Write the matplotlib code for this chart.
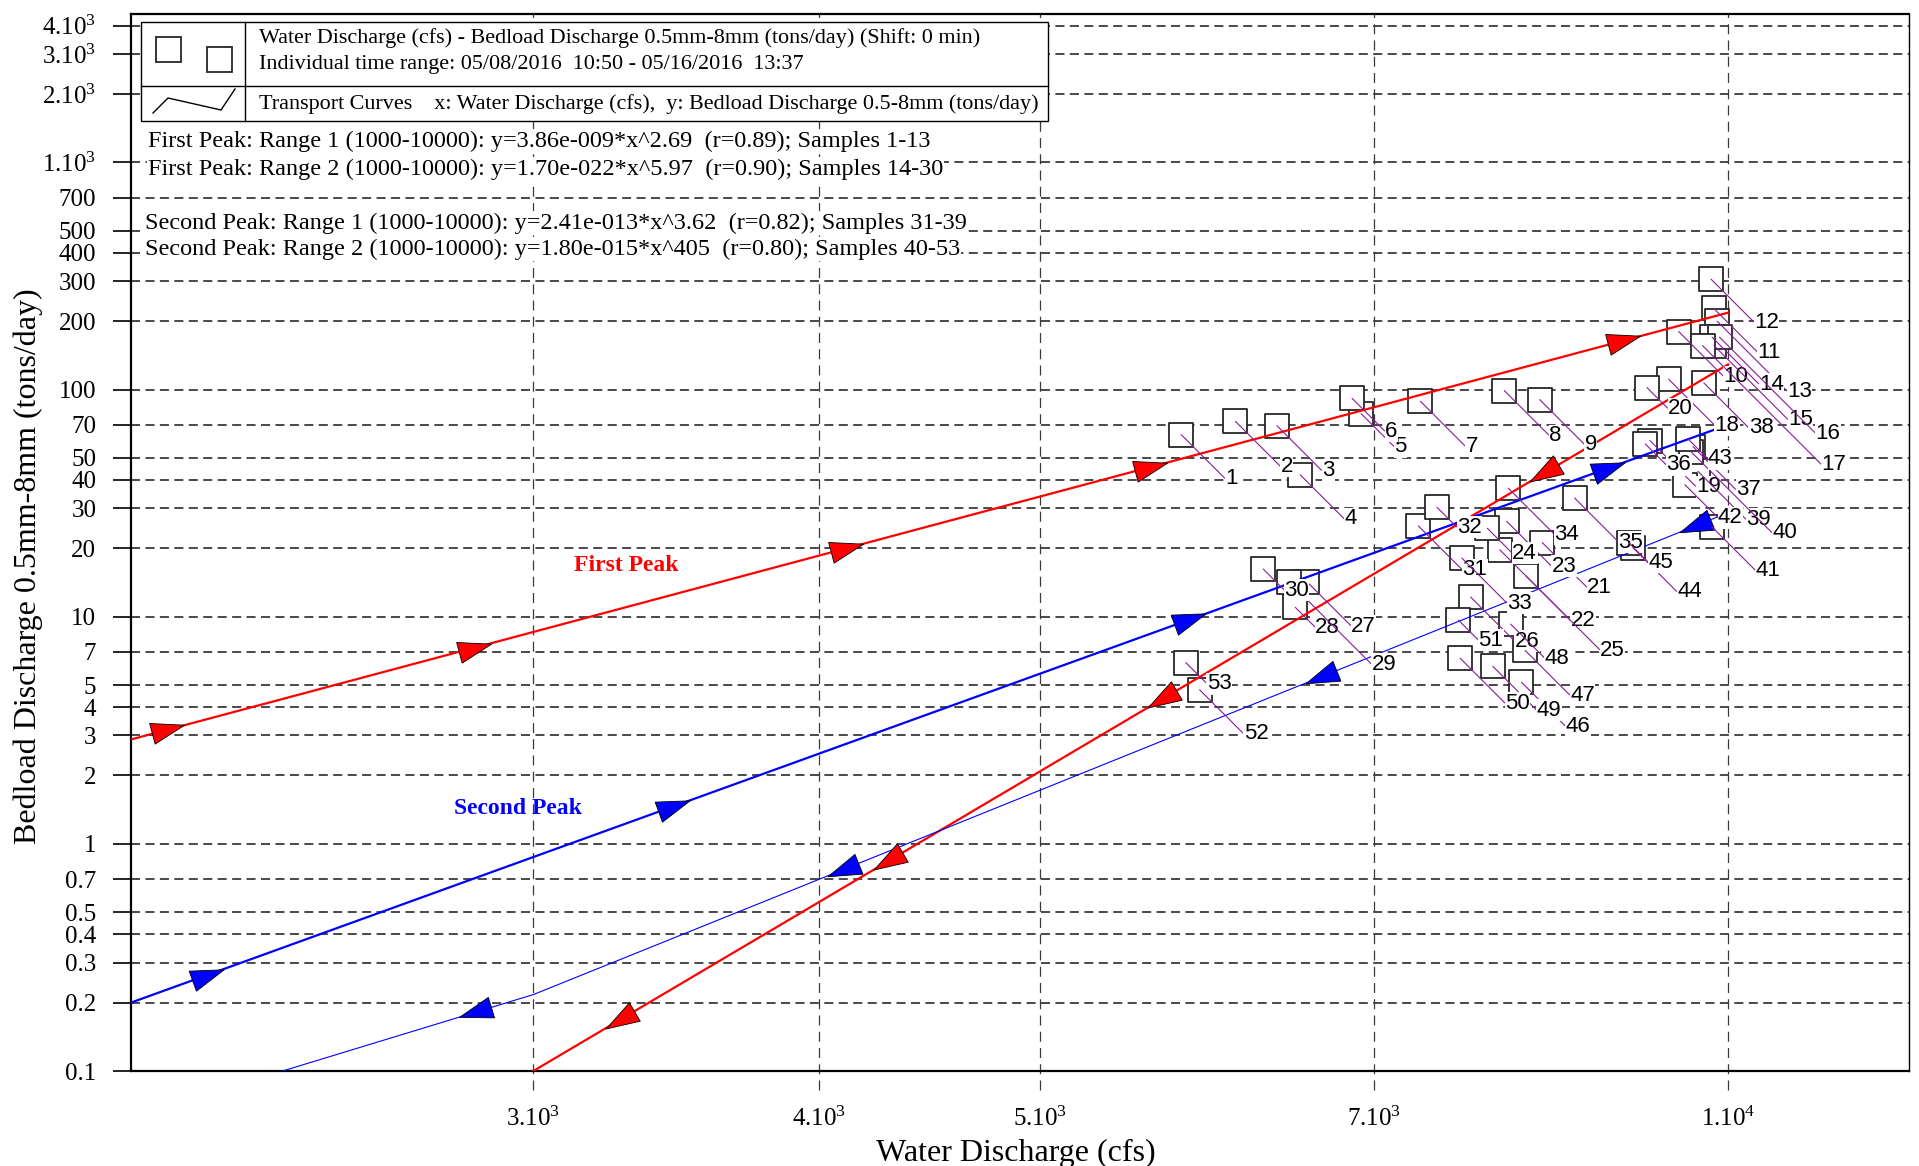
import numpy as np
import matplotlib
matplotlib.use('Agg')
import matplotlib.pyplot as plt
from matplotlib.lines import Line2D
from matplotlib.patches import Rectangle
from matplotlib.markers import MarkerStyle
from matplotlib.path import Path
from matplotlib.transforms import Affine2D
from matplotlib.ticker import FixedLocator, NullLocator

plt.rcParams['font.family'] = ['Liberation Serif', 'DejaVu Serif']
plt.rcParams['mathtext.fontset'] = 'custom'
plt.rcParams['mathtext.rm'] = 'Liberation Serif'
plt.rcParams['mathtext.it'] = 'Liberation Serif:italic'

# samples (water discharge cfs, bedload tons/day), numbered 1..53
sample_no = list(range(1, 54))
water_q = [5763, 6087, 6347, 6498, 6909, 6846, 7334, 7981, 8271, 9515,
           9855, 9830, 9890, 9840, 9860, 9914, 9746, 9419, 9243, 9215,
           8292, 7945, 8000, 7846, 8158, 7715, 6544, 6465, 6427, 6260,
           7319, 7458, 7648, 8013, 8567, 9200, 9653, 9758, 9702, 9634,
           9837, 9575, 9604, 9087, 9050, 8120, 8150, 8033, 7889, 7634,
           7621, 5871, 5790]
bedload = [63.3, 72.4, 69.3, 42.1, 78.3, 91.5, 88.8, 99.0, 90.3, 180,
           228, 306, 200, 170, 156, 170, 156, 111, 59.6, 102,
           21.2, 19.7, 26.3, 24.5, 15.1, 12.2, 14.2, 11.0, 14.2, 16.2,
           25.1, 30.3, 18.1, 36.8, 33.3, 57.6, 56.0, 107, 43.6, 53.2,
           24.9, 38.1, 60.6, 20.1, 21.1, 5.15, 7.11, 9.27, 6.05, 6.56,
           9.65, 4.77, 6.28]
# length of the purple leader line for each label (pixels)
leader_len = [44, 45, 45, 44, 33, 33, 45, 45, 45, 45,
              44, 43, 70, 47, 74, 96, 119, 46, 46, 21,
              45, 71, 45, 25, 74, 44, 44, 20, 82, 21,
              44, 20, 45, 46, 44, 21, 43, 45, 48, 81,
              44, 33, 20, 44, 19, 44, 45, 34, 44, 45,
              20, 44, 21]

# transport curves
fp1_q, fp1_qs = [2000, 10000], [2.88, 218]
fp2_q, fp2_qs = [3000, 10000], [0.1, 129]
sp1_q, sp1_qs = [2000, 10000], [0.2, 70]
sp2_q, sp2_qs = [2330, 3000, 10000], [0.1, 0.217, 28.7]
fp1_arrows = [2077, 2829, 4114, 5591, 9004]
fp2_arrows = [3273, 4290, 5651, 8309]
sp1_arrows = [2161, 3456, 5814, 8872]
sp2_arrows = [2829, 4100, 6635, 9673]

x_ticks = [3000, 4000, 5000, 7000, 10000]
x_labels = [r'$\mathregular{3.10^{3}}$', r'$\mathregular{4.10^{3}}$', r'$\mathregular{5.10^{3}}$',
            r'$\mathregular{7.10^{3}}$', r'$\mathregular{1.10^{4}}$']
y_ticks = [0.1, 0.2, 0.3, 0.4, 0.5, 0.7, 1, 2, 3, 4, 5, 7, 10, 20, 30, 40, 50, 70,
           100, 200, 300, 400, 500, 700, 1000, 2000, 3000, 4000]
y_labels = ['0.1', '0.2', '0.3', '0.4', '0.5', '0.7', '1', '2', '3', '4', '5', '7',
            '10', '20', '30', '40', '50', '70', '100', '200', '300', '400', '500', '700',
            r'$\mathregular{1.10^{3}}$', r'$\mathregular{2.10^{3}}$',
            r'$\mathregular{3.10^{3}}$', r'$\mathregular{4.10^{3}}$']

W, H = 1919, 1166
fig = plt.figure(figsize=(W / 100, H / 100), dpi=100)
ax = fig.add_axes([131 / W, 1 - 1071 / H, 1778 / W, 1057 / H])
ax.set_xscale('log')
ax.set_yscale('log')
ax.set_xlim(2000, 12000)
ax.set_ylim(0.1, 4500)
ax.xaxis.set_major_locator(FixedLocator(x_ticks))
ax.xaxis.set_minor_locator(NullLocator())
ax.yaxis.set_major_locator(FixedLocator(y_ticks))
ax.yaxis.set_minor_locator(NullLocator())
ax.set_xticklabels(x_labels)
ax.set_yticklabels(y_labels)
ax.tick_params(axis='y', direction='out', length=13, width=1.2, pad=12, labelsize=18)
ax.tick_params(axis='x', length=0, pad=26, labelsize=18)
ax.set_axisbelow(True)
ax.grid(axis='y', ls=(0, (5, 3)), color='#3a3a3a', lw=1.3)
ax.vlines(x_ticks, -0.018, 1, transform=ax.get_xaxis_transform(), colors='#3a3a3a',
          lw=0.9, linestyles=(0, (8, 5)), clip_on=False, zorder=0.5)
for s in ['left', 'bottom', 'top']:
    ax.spines[s].set_linewidth(1.6)
ax.spines['right'].set_linewidth(1.0)

ax.set_xlabel('Water Discharge (cfs)', fontsize=23)
ax.xaxis.set_label_coords(0.4978, -0.064)
ax.set_ylabel('Bedload Discharge 0.5mm-8mm (tons/day)', fontsize=23)
ax.yaxis.set_label_coords(-0.0495, 0.478)

# samples
ax.scatter(water_q, bedload, marker='s', s=300, facecolor='white', edgecolor='#262626',
           linewidth=1.3, zorder=3)

# transport curves with arrow heads
arrow_path = Path([(0.5, 0), (-0.5, 0.32), (-0.5, -0.32), (0.5, 0)],
                  [Path.MOVETO, Path.LINETO, Path.LINETO, Path.CLOSEPOLY])
curves = [
    (fp1_q, fp1_qs, fp1_arrows, 'red', 1.6, 1),
    (fp2_q, fp2_qs, fp2_arrows, 'red', 1.6, -1),
    (sp1_q, sp1_qs, sp1_arrows, 'blue', 1.6, 1),
    (sp2_q, sp2_qs, sp2_arrows, 'blue', 0.8, -1),
]
for qx, qy, arr, col, lw, direction in curves:
    ax.plot(qx, qy, color=col, lw=lw, zorder=4)
    lx, ly = np.log10(qx), np.log10(qy)
    disp = ax.transData.transform(np.column_stack([qx, qy]))
    for a in arr:
        la = np.log10(a)
        ya = 10 ** np.interp(la, lx, ly)
        k = min(np.searchsorted(lx, la), len(lx) - 1)
        k = max(k, 1)
        d = disp[k] - disp[k - 1]
        ang = np.degrees(np.arctan2(d[1], d[0]))
        if direction < 0:
            ang += 180
        m = MarkerStyle(arrow_path, transform=Affine2D().rotate_deg(ang))
        ax.plot([a], [ya], marker=m, ms=24, mfc=col, mec='black', mew=0.6,
                ls='none', zorder=4.5)

ax.text(0.2787, 0.4783, 'First Peak', transform=ax.transAxes, color='red',
        fontweight='bold', fontsize=17, ha='center', va='center')
ax.text(0.2175, 0.2479, 'Second Peak', transform=ax.transAxes, color='blue',
        fontweight='bold', fontsize=17, ha='center', va='center')

# sample number labels with leader lines
for n, q, b, L in zip(sample_no, water_q, bedload, leader_len):
    ax.annotate(str(n), xy=(q, b), xytext=(L * 0.72, -L * 0.72), textcoords='offset points',
                ha='left', va='center', fontsize=16, family=['Liberation Sans', 'DejaVu Sans'],
                bbox=dict(boxstyle='square,pad=0.02', fc='white', ec='none'),
                arrowprops=dict(arrowstyle='-', color='#8a1a9a', lw=0.8,
                                shrinkA=0, shrinkB=0, relpos=(0, 0.5)),
                zorder=5)


# legend box and formula texts, placed in figure pixels
def fx(px):
    return np.asarray(px, dtype=float) / W


def fy(py):
    return 1 - np.asarray(py, dtype=float) / H


fig.add_artist(Rectangle((fx(141), fy(121)), 907 / W, 99 / H, transform=fig.transFigure,
                         fc='white', ec='black', lw=1.0, zorder=5))
fig.add_artist(Line2D(fx([141, 1048]), fy([86, 86]), color='black', lw=1.0,
                      transform=fig.transFigure, zorder=6))
fig.add_artist(Line2D(fx([245, 245]), fy([22, 121]), color='black', lw=1.0,
                      transform=fig.transFigure, zorder=6))
for cx, cy in [(168, 49), (218.5, 59)]:
    fig.add_artist(Line2D([fx(cx)], [fy(cy)], marker='s', ms=18, mfc='white', mec='#262626',
                          mew=1.3, ls='none', transform=fig.transFigure, zorder=6))
fig.add_artist(Line2D(fx([153, 168, 221, 235]), fy([113, 98, 110, 89]), color='black', lw=1.0,
                      transform=fig.transFigure, zorder=6))

fig.text(fx(259), fy(38), 'Water Discharge (cfs) - Bedload Discharge 0.5mm-8mm (tons/day) (Shift: 0 min)',
         ha='left', va='center', fontsize=15.9, zorder=7)
fig.text(fx(259), fy(65), 'Individual time range: 05/08/2016  10:50 - 05/16/2016  13:37',
         ha='left', va='center', fontsize=15.9, zorder=7)
fig.text(fx(259), fy(104), 'Transport Curves    x: Water Discharge (cfs),  y: Bedload Discharge 0.5-8mm (tons/day)',
         ha='left', va='center', fontsize=15.9, zorder=7)

eq_lines = [
    (148, 141, 'First Peak: Range 1 (1000-10000): y=3.86e-009*x^2.69  (r=0.89); Samples 1-13'),
    (148, 169, 'First Peak: Range 2 (1000-10000): y=1.70e-022*x^5.97  (r=0.90); Samples 14-30'),
    (145, 223, 'Second Peak: Range 1 (1000-10000): y=2.41e-013*x^3.62  (r=0.82); Samples 31-39'),
    (145, 249, 'Second Peak: Range 2 (1000-10000): y=1.80e-015*x^405  (r=0.80); Samples 40-53'),
]
for px, py, t in eq_lines:
    fig.text(fx(px), fy(py), t, ha='left', va='center', fontsize=17.5, zorder=7,
             bbox=dict(boxstyle='square,pad=0.04', fc='white', ec='none'))

fig.savefig('out.png', dpi=100)
